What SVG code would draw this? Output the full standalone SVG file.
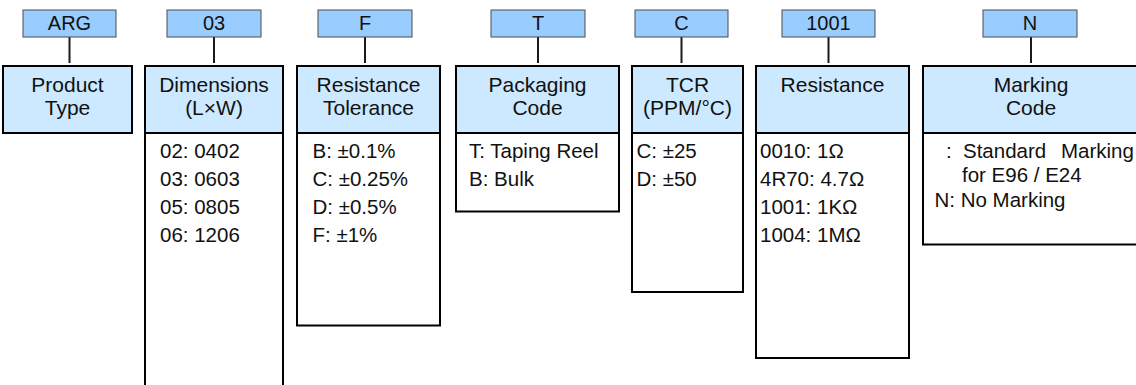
<svg xmlns="http://www.w3.org/2000/svg" width="1136" height="385" viewBox="0 0 1136 385">
<style>
text{font-family:"Liberation Sans",Arial,sans-serif;fill:#111}
.code{fill:#99ccff;stroke:#4d4d4d;stroke-width:1}
.codet{font-size:20px;text-anchor:middle}
.hdr{fill:#cce9ff;stroke:#000;stroke-width:2}
.hdrt{font-size:21px;text-anchor:middle}
.lst{fill:#fff;stroke:#000;stroke-width:2}
.lstt{font-size:20.5px}
.conn line{stroke:#1a1a1a;stroke-width:2}
</style>
<rect width="1136" height="385" fill="#fff"/>
<g class="conn">
<line x1="69.5" y1="37" x2="69.5" y2="63"/>
<line x1="214" y1="37" x2="214" y2="63"/>
<line x1="365" y1="37" x2="365" y2="63"/>
<line x1="538" y1="37" x2="538" y2="63"/>
<line x1="681.5" y1="37" x2="681.5" y2="63"/>
<line x1="828.5" y1="37" x2="828.5" y2="63"/>
<line x1="1031" y1="37" x2="1031" y2="63"/>
</g>
<g id="product-type">
<rect class="code" x="23" y="10" width="93" height="27"/>
<text class="codet" x="69.5" y="30">ARG</text>
<rect class="hdr" x="3" y="66" width="129" height="67"/>
<text class="hdrt" x="67.5" y="92">Product</text>
<text class="hdrt" x="67.5" y="115">Type</text>
</g>
<g id="dimensions">
<rect class="code" x="167" y="10" width="94" height="27"/>
<text class="codet" x="214" y="30">03</text>
<rect class="lst" x="145" y="133" width="138" height="270"/>
<rect class="hdr" x="145" y="66" width="138" height="67"/>
<text class="hdrt" x="214" y="92">Dimensions</text>
<text class="hdrt" x="214" y="115">(L×W)</text>
<text class="lstt" x="160" y="158">02: 0402</text>
<text class="lstt" x="160" y="186">03: 0603</text>
<text class="lstt" x="160" y="214">05: 0805</text>
<text class="lstt" x="160" y="242">06: 1206</text>
</g>
<g id="tolerance">
<rect class="code" x="318" y="10" width="94" height="27"/>
<text class="codet" x="365" y="30">F</text>
<rect class="lst" x="297" y="133" width="143" height="192.5"/>
<rect class="hdr" x="297" y="66" width="143" height="67"/>
<text class="hdrt" x="368.5" y="92">Resistance</text>
<text class="hdrt" x="368.5" y="115">Tolerance</text>
<text class="lstt" x="312.5" y="158">B: ±0.1%</text>
<text class="lstt" x="312.5" y="186">C: ±0.25%</text>
<text class="lstt" x="312.5" y="214">D: ±0.5%</text>
<text class="lstt" x="312.5" y="242">F: ±1%</text>
</g>
<g id="packaging">
<rect class="code" x="491" y="10" width="94" height="27"/>
<text class="codet" x="538" y="30">T</text>
<rect class="lst" x="456" y="133" width="163" height="78.5"/>
<rect class="hdr" x="456" y="66" width="163" height="67"/>
<text class="hdrt" x="537.5" y="92">Packaging</text>
<text class="hdrt" x="537.5" y="115">Code</text>
<text class="lstt" x="469" y="158">T: Taping Reel</text>
<text class="lstt" x="469" y="186">B: Bulk</text>
</g>
<g id="tcr">
<rect class="code" x="635" y="10" width="93" height="27"/>
<text class="codet" x="681.5" y="30">C</text>
<rect class="lst" x="632" y="133" width="111" height="159"/>
<rect class="hdr" x="632" y="66" width="111" height="67"/>
<text class="hdrt" x="687.5" y="92">TCR</text>
<text class="hdrt" x="687.5" y="115">(PPM/°C)</text>
<text class="lstt" x="636.5" y="158">C: ±25</text>
<text class="lstt" x="636.5" y="186">D: ±50</text>
</g>
<g id="resistance">
<rect class="code" x="782" y="10" width="93" height="27"/>
<text class="codet" x="828.5" y="30">1001</text>
<rect class="lst" x="756" y="133" width="153" height="225"/>
<rect class="hdr" x="756" y="66" width="153" height="67"/>
<text class="hdrt" x="832.5" y="92">Resistance</text>
<text class="lstt" x="760" y="158">0010: 1Ω</text>
<text class="lstt" x="760" y="186">4R70: 4.7Ω</text>
<text class="lstt" x="760" y="214">1001: 1KΩ</text>
<text class="lstt" x="760" y="242">1004: 1MΩ</text>
</g>
<g id="marking">
<rect class="code" x="983" y="10" width="94" height="27"/>
<text class="codet" x="1030" y="30">N</text>
<rect class="lst" x="923" y="133" width="230" height="111.5"/>
<rect class="hdr" x="923" y="66" width="230" height="67"/>
<text class="hdrt" x="1031" y="92">Marking</text>
<text class="hdrt" x="1031" y="115">Code</text>
<text class="lstt" y="157.5"><tspan x="946">:</tspan><tspan x="963">Standard</tspan><tspan x="1061">Marking</tspan></text>
<text class="lstt" x="962" y="182">for E96 / E24</text>
<text class="lstt" x="934.5" y="207">N: No Marking</text>
</g>
</svg>
